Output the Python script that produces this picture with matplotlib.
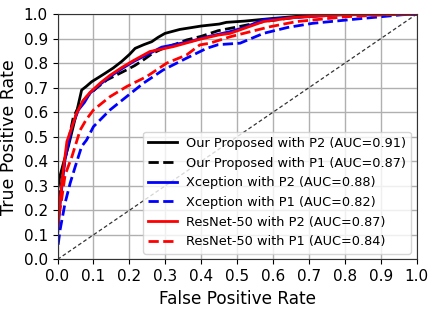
import matplotlib
matplotlib.use('Agg')
import matplotlib.pyplot as plt
import numpy as np

# ROC curves (false positive rate, true positive rate)
ours_p2_fpr = [0.0, 0.0, 0.005, 0.016, 0.03, 0.05, 0.067, 0.08, 0.095, 0.118, 0.132, 0.155, 0.178, 0.2, 0.216, 0.24, 0.262, 0.28, 0.299, 0.34, 0.40, 0.45, 0.47, 0.52, 0.60, 0.68, 0.75, 0.85, 1.0]
ours_p2_tpr = [0.0, 0.28, 0.33, 0.39, 0.46, 0.58, 0.69, 0.705, 0.724, 0.745, 0.758, 0.78, 0.806, 0.835, 0.86, 0.875, 0.887, 0.905, 0.921, 0.937, 0.951, 0.959, 0.966, 0.971, 0.982, 0.992, 0.997, 1.0, 1.0]

ours_p1_fpr = [0.0, 0.0, 0.01, 0.02, 0.03, 0.044, 0.06, 0.081, 0.11, 0.137, 0.165, 0.192, 0.215, 0.239, 0.265, 0.294, 0.33, 0.359, 0.40, 0.447, 0.51, 0.573, 0.665, 0.75, 0.85, 1.0]
ours_p1_tpr = [0.0, 0.2, 0.3, 0.4, 0.48, 0.58, 0.625, 0.663, 0.70, 0.731, 0.752, 0.772, 0.79, 0.813, 0.84, 0.86, 0.878, 0.894, 0.909, 0.932, 0.950, 0.969, 0.987, 0.996, 1.0, 1.0]

xcep_p2_fpr = [0.0, 0.0, 0.008, 0.02, 0.04, 0.058, 0.075, 0.09, 0.12, 0.146, 0.18, 0.211, 0.257, 0.29, 0.322, 0.377, 0.41, 0.48, 0.52, 0.573, 0.64, 0.71, 0.80, 1.0]
xcep_p2_tpr = [0.0, 0.1, 0.24, 0.40, 0.541, 0.609, 0.64, 0.677, 0.715, 0.745, 0.778, 0.806, 0.84, 0.865, 0.874, 0.891, 0.905, 0.928, 0.945, 0.976, 0.984, 0.99, 0.998, 1.0]

xcep_p1_fpr = [0.0, 0.0, 0.007, 0.021, 0.035, 0.049, 0.067, 0.081, 0.1, 0.146, 0.192, 0.239, 0.294, 0.359, 0.415, 0.447, 0.508, 0.573, 0.64, 0.71, 0.85, 0.96, 1.0]
xcep_p1_tpr = [0.0, 0.04, 0.12, 0.23, 0.31, 0.377, 0.46, 0.487, 0.541, 0.609, 0.663, 0.718, 0.772, 0.82, 0.86, 0.875, 0.881, 0.921, 0.945, 0.962, 0.982, 0.997, 1.0]

res_p2_fpr = [0.0, 0.0, 0.007, 0.016, 0.026, 0.053, 0.07, 0.09, 0.12, 0.146, 0.18, 0.211, 0.257, 0.322, 0.396, 0.447, 0.48, 0.573, 0.665, 0.78, 1.0]
res_p2_tpr = [0.0, 0.12, 0.24, 0.365, 0.48, 0.596, 0.645, 0.68, 0.72, 0.75, 0.783, 0.81, 0.847, 0.867, 0.897, 0.914, 0.921, 0.969, 0.987, 0.996, 1.0]

res_p1_fpr = [0.0, 0.0, 0.01, 0.021, 0.04, 0.063, 0.08, 0.1, 0.146, 0.192, 0.248, 0.304, 0.359, 0.396, 0.424, 0.48, 0.591, 0.665, 0.804, 0.96, 1.0]
res_p1_tpr = [0.0, 0.15, 0.23, 0.344, 0.419, 0.527, 0.57, 0.609, 0.663, 0.704, 0.745, 0.8, 0.833, 0.874, 0.881, 0.907, 0.948, 0.969, 0.989, 1.0, 1.0]

labels = [
    'Our Proposed with P2 (AUC=0.91)',
    'Our Proposed with P1 (AUC=0.87)',
    'Xception with P2 (AUC=0.88)',
    'Xception with P1 (AUC=0.82)',
    'ResNet-50 with P2 (AUC=0.87)',
    'ResNet-50 with P1 (AUC=0.84)',
]
ticks = np.arange(0, 1.01, 0.1)

fig = plt.figure(figsize=(4.36, 3.11), dpi=100)
ax = fig.add_axes([0.132, 0.166, 0.824, 0.789])

# chance line
ax.plot([0, 1], [0, 1], color='#333333', linestyle='--', linewidth=0.9, dashes=(3, 2))

ax.plot(ours_p2_fpr, ours_p2_tpr, color='black', linestyle='-', linewidth=2, label=labels[0])
ax.plot(ours_p1_fpr, ours_p1_tpr, color='black', linestyle='--', linewidth=2, label=labels[1])
ax.plot(xcep_p2_fpr, xcep_p2_tpr, color='blue', linestyle='-', linewidth=2, label=labels[2])
ax.plot(xcep_p1_fpr, xcep_p1_tpr, color='blue', linestyle='--', linewidth=2, label=labels[3])
ax.plot(res_p2_fpr, res_p2_tpr, color='red', linestyle='-', linewidth=2, label=labels[4])
ax.plot(res_p1_fpr, res_p1_tpr, color='red', linestyle='--', linewidth=2, label=labels[5])

ax.set_xlim(0, 1)
ax.set_ylim(0, 1)
ax.set_xticks(ticks)
ax.set_yticks(ticks)
ax.set_xticklabels(['%.1f' % t for t in ticks])
ax.set_yticklabels(['%.1f' % t for t in ticks])
ax.tick_params(labelsize=11, length=3.5)
ax.grid(True, color='#b0b0b0', linewidth=1)
ax.set_axisbelow(True)
for s in ax.spines.values():
    s.set_color('#333333')

ax.set_xlabel('False Positive Rate', fontsize=12.2)
ax.set_ylabel('True Positive Rate', fontsize=12.5)
ax.legend(loc='lower right', fontsize=9.3, handlelength=2.2, handletextpad=0.7,
          borderaxespad=0.45, labelspacing=0.52)

fig.savefig('out.png', dpi=100)
